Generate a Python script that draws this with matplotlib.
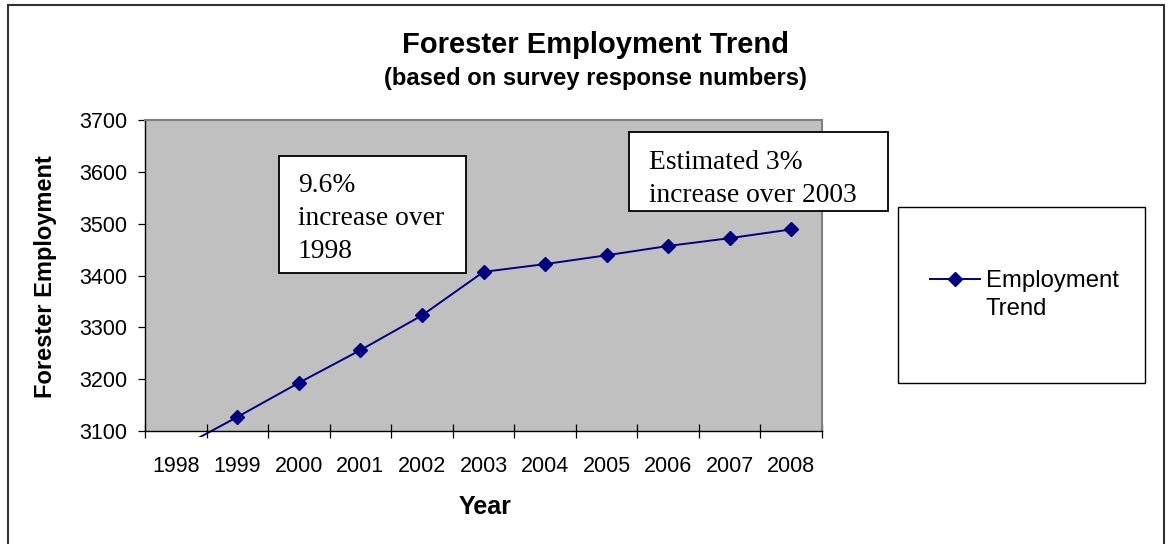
import matplotlib.pyplot as plt
from matplotlib.patches import Rectangle
from matplotlib.lines import Line2D

# chart values
years = ['1998', '1999', '2000', '2001', '2002', '2003', '2004', '2005', '2006', '2007', '2008']
employment = [3063, 3127, 3193, 3256, 3323, 3407, 3422, 3439, 3457, 3472, 3489]
y_ticks = [3100, 3200, 3300, 3400, 3500, 3600, 3700]

note_1998 = "9.6%\nincrease over\n1998"
note_2003 = "Estimated 3%\nincrease over 2003"
series_name = "Employment\nTrend"

W, H = 1168, 544
LINE_COLOR = '#000080'
plt.rcParams['font.family'] = ['Liberation Sans', 'DejaVu Sans']

fig = plt.figure(figsize=(W / 100, H / 100), dpi=100)
ax = fig.add_axes([145 / W, 1 - 431 / H, (822 - 145) / W, (431 - 120) / H])
ax.set_facecolor('#C0C0C0')

x = list(range(len(years)))
line, = ax.plot(x, employment, color=LINE_COLOR, lw=1.4, marker='D', ms=7.5)
# excel lets the line run a few pixels under the axis before cutting it
clip = Rectangle((0, -0.02), 1, 1.02, transform=ax.transAxes, facecolor='none', edgecolor='none')
ax.add_patch(clip)
line.set_clip_path(clip)

ax.set_xlim(-0.5, len(years) - 0.5)
ax.set_ylim(3100, 3700)
ax.set_xticks(x)
ax.set_xticklabels(years)
ax.set_xticks([i - 0.5 for i in range(len(years) + 1)], minor=True)
ax.set_yticks(y_ticks)
ax.tick_params(axis='x', which='major', length=0, labelsize=15.5, pad=18)
ax.tick_params(axis='x', which='minor', direction='inout', length=10, width=0.9)
ax.tick_params(axis='y', length=5, width=0.9, labelsize=15.5, pad=8)

for side in ['top', 'right']:
    ax.spines[side].set_color('#808080')
    ax.spines[side].set_linewidth(1.5)
for side in ['left', 'bottom']:
    ax.spines[side].set_color('black')
    ax.spines[side].set_linewidth(1.0)

fig.text(46 / W, 1 - 277 / H, 'Forester Employment', rotation=90, ha='center', va='center',
         fontsize=17, fontweight='bold')
fig.text(485 / W, 1 - 507 / H, 'Year', ha='center', va='center', fontsize=18, fontweight='bold')
fig.text(595 / W, 1 - 45 / H, 'Forester Employment Trend', ha='center', va='center',
         fontsize=21, fontweight='bold')
fig.text(595 / W, 1 - 79 / H, '(based on survey response numbers)', ha='center', va='center',
         fontsize=17.1, fontweight='bold')

# text boxes
def note_box(x0, y0, x1, y1, tx, ty, txt):
    fig.patches.append(Rectangle((x0 / W, 1 - y1 / H), (x1 - x0) / W, (y1 - y0) / H,
                                 transform=fig.transFigure, facecolor='white',
                                 edgecolor='black', lw=1.3, zorder=3))
    fig.text(tx / W, 1 - ty / H, txt, ha='left', va='top', fontsize=19.8,
             family=['Liberation Serif', 'DejaVu Serif'], linespacing=1.42, zorder=4)

note_box(279, 156, 466, 273, 298, 173, note_1998)
note_box(629, 132, 888, 211, 649, 150, note_2003)

# legend box, drawn by hand so the key sits on the first text line like excel does
fig.patches.append(Rectangle((898 / W, 1 - 383 / H), (1145 - 898) / W, (383 - 207) / H,
                             transform=fig.transFigure, facecolor='white',
                             edgecolor='black', lw=1.0))
fig.lines.append(Line2D([930 / W, 980 / W], [1 - 279 / H, 1 - 279 / H], transform=fig.transFigure,
                        color=LINE_COLOR, lw=1.4))
fig.lines.append(Line2D([955 / W], [1 - 279 / H], transform=fig.transFigure, color=LINE_COLOR,
                        marker='D', ms=7))
fig.text(986 / W, 1 - 270 / H, series_name, ha='left', va='top', fontsize=17.2, linespacing=1.36)

# outer chart border
fig.patches.append(Rectangle((8 / W, -0.1), (1164 - 8) / W, 1.1 - 5 / H,
                             transform=fig.transFigure, facecolor='none',
                             edgecolor='#333333', lw=1.5))

fig.savefig('out.png', dpi=100)
